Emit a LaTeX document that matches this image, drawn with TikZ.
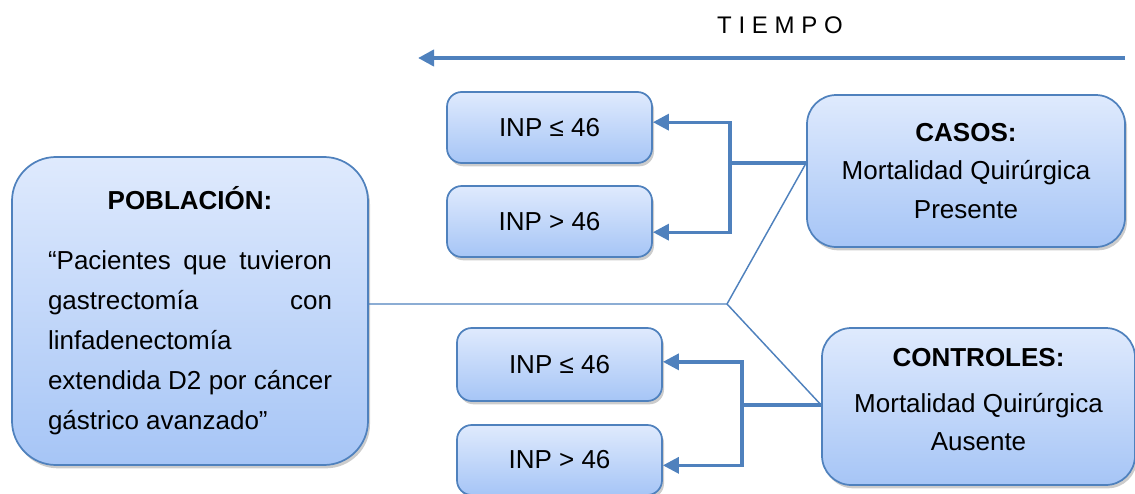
\documentclass[tikz,border=0pt]{standalone}
\usepackage{fontspec}
\setmainfont{Liberation Sans}
\newfontfamily\spacedfont[LetterSpace=28]{Liberation Sans}
\usetikzlibrary{shadows,arrows.meta}
\definecolor{edgeblue}{RGB}{79,129,189}
\definecolor{filltop}{RGB}{223,234,253}
\definecolor{fillbot}{RGB}{166,197,246}

\begin{document}
\begin{tikzpicture}[x=0.75pt,y=-0.75pt,
  box/.style={draw=edgeblue,line width=1.3pt,top color=filltop,bottom color=fillbot,
    drop shadow={shadow xshift=1.5pt,shadow yshift=-2.5pt,opacity=0.4},
    font=\fontsize{19.5}{29}\selectfont,align=center,inner sep=0pt},
  inp/.style={box,rounded corners=11pt,minimum width=153.75pt,minimum height=53.25pt},
  branch/.style={draw=edgeblue,line width=2.5pt},
  headarrow/.style={-{Triangle[length=12pt,width=12pt]}},
  thinline/.style={draw=edgeblue,line width=1.1pt}]
\useasboundingbox (0,0) rectangle (1135,493);
% time axis
\node (tiempo) at (780,25) {\spacedfont\fontsize{18}{20}\selectfont TIEMPO};
\coordinate (tstart) at (1125,58);
\coordinate (tend) at (418,58);
\draw[edgeblue,line width=3.3pt,-{Triangle[length=12pt,width=12pt]}] (tstart) -- (tend);
% boxes
\node[box,rounded corners=33pt,minimum width=267pt,minimum height=231pt,font=\fontsize{19.5}{30}\selectfont]
  (poblacion) at (190,311) {\makebox[213pt][c]{\bfseries POBLACIÓN:}\\[15pt]
  \makebox[213pt][s]{“Pacientes que tuvieron}\\
  \makebox[213pt][s]{gastrectomía con}\\
  \makebox[213pt][l]{linfadenectomía}\\
  \makebox[213pt][s]{extendida D2 por cáncer}\\
  \makebox[213pt][l]{gástrico avanzado”}};
\node[box,rounded corners=22pt,minimum width=238.5pt,minimum height=114pt]
  (casos) at (966,171) {\textbf{CASOS:}\\Mortalidad Quirúrgica\\Presente};
\node[box,rounded corners=22pt,minimum width=234.75pt,minimum height=117.75pt]
  (controles) at (978.5,406.5) {\textbf{CONTROLES:}\\[5pt]Mortalidad Quirúrgica\\Ausente\rule[-10pt]{0pt}{0pt}};
\node[inp] (inpA) at (549.5,127.5) {INP ≤ 46};
\node[inp] (inpB) at (549.5,221.5) {INP > 46};
\node[inp,minimum height=54.75pt] (inpC) at (559.5,364.5) {INP ≤ 46};
\node[inp,minimum height=52.5pt] (inpD) at (559.5,460) {INP > 46};
% connectors
\coordinate (fork) at (727,304);
\coordinate (casosjoin) at (730,163);
\coordinate (ctrljoin) at (742,405);
\draw[thinline] (poblacion.east |- fork) -- (fork) -- (casosjoin -| casos.west);
\draw[thinline] (fork) -- (ctrljoin -| controles.west);
\draw[branch] (casosjoin -| casos.west) -- (casosjoin);
\draw[branch,headarrow] (casosjoin) |- ([yshift=4pt]inpA.east);
\draw[branch,headarrow] (casosjoin) |- ([yshift=-8pt]inpB.east);
\draw[branch] (ctrljoin -| controles.west) -- (ctrljoin);
\draw[branch,headarrow] (ctrljoin) |- ([yshift=2pt]inpC.east);
\draw[branch,headarrow] (ctrljoin) |- ([yshift=-4pt]inpD.east);
\end{tikzpicture}
\end{document}
